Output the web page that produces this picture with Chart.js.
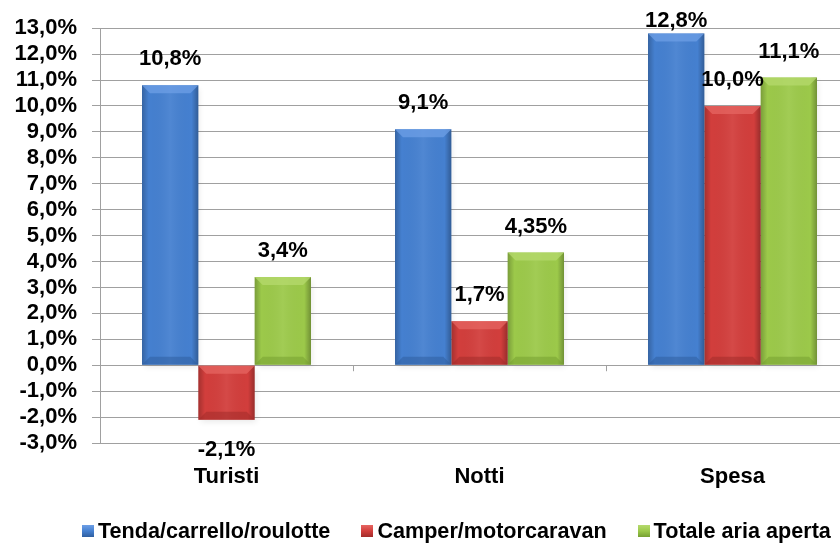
<!DOCTYPE html>
<html>
<head>
<meta charset="utf-8">
<script src="https://cdn.jsdelivr.net/npm/chart.js@4/dist/chart.umd.min.js"></script>
<style>
  html, body { margin: 0; padding: 0; background: #fff; overflow: hidden; }
  #wrap { position: relative; width: 860px; height: 547px; }
  #legend { position: absolute; left: 82px; top: 518px; height: 26px; display: flex; align-items: center;
            font-family: 'Liberation Sans', Arial, sans-serif; font-weight: bold; font-size: 21.6px; color: #000; white-space: nowrap; }
  .item { display: flex; align-items: center; margin-right: 31px; }
  .sw { width: 12px; height: 12px; margin-right: 4px; box-sizing: border-box; }
</style>
</head>
<body>
<div id="wrap">
  <canvas id="c" width="860" height="547"></canvas>
  <div id="legend"></div>
</div>
<script>
const categories = ['Turisti', 'Notti', 'Spesa'];
const seriesNames = ['Tenda/carrello/roulotte', 'Camper/motorcaravan', 'Totale aria aperta'];
const tendaValues = [10.8, 9.1, 12.8];
const camperValues = [-2.1, 1.7, 10.0];
const totaleValues = [3.4, 4.35, 11.1];
const yMin = -3, yMax = 13, yStep = 1;

const baseColors = ['#4580d0', '#d23e3c', '#9cc94a'];
const lightColors = ['#6e9fe6', '#e66662', '#b5da6e'];
const darkColors = ['#2f5fa0', '#a22c2a', '#76a032'];

function fmtValue(v) {
  let s = String(v);
  if (s.indexOf('.') < 0) s += '.0';
  return s.replace('.', ',') + '%';
}

const FONT = "'Liberation Sans', Arial, sans-serif";

const barStyle = {
  id: 'barStyle',
  beforeDatasetsDraw(chart) {
    const ctx = chart.ctx;
    ctx.save();
    chart.data.datasets.forEach((ds, di) => {
      const meta = chart.getDatasetMeta(di);
      meta.data.forEach(el => {
        const p = el.getProps(['x', 'y', 'base', 'width'], true);
        const l = p.x - p.width / 2, t = Math.min(p.y, p.base), h = Math.abs(p.base - p.y);
        ctx.shadowColor = 'rgba(0,0,0,0.35)';
        ctx.shadowBlur = 6;
        ctx.shadowOffsetX = 2;
        ctx.shadowOffsetY = 3;
        ctx.fillStyle = 'rgba(0,0,0,0.25)';
        ctx.fillRect(l + 1, t + 1, p.width - 2, h - 2);
      });
    });
    ctx.restore();
  },
  afterDatasetsDraw(chart) {
    const ctx = chart.ctx;
    ctx.save();
    chart.data.datasets.forEach((ds, di) => {
      const meta = chart.getDatasetMeta(di);
      meta.data.forEach(el => {
        const p = el.getProps(['x', 'y', 'base', 'width'], true);
        const l = p.x - p.width / 2, r = p.x + p.width / 2;
        const t = Math.min(p.y, p.base), b = Math.max(p.y, p.base);
        const h = b - t;
        const g = ctx.createLinearGradient(l, 0, r, 0);
        g.addColorStop(0, 'rgba(0,0,0,0.22)');
        g.addColorStop(0.12, 'rgba(0,0,0,0.0)');
        g.addColorStop(0.5, 'rgba(255,255,255,0.06)');
        g.addColorStop(0.88, 'rgba(0,0,0,0.0)');
        g.addColorStop(1, 'rgba(0,0,0,0.28)');
        ctx.fillStyle = g;
        ctx.fillRect(l, t, r - l, h);
        const bv = Math.min(8, h / 2);
        ctx.fillStyle = lightColors[di];
        ctx.globalAlpha = 0.75;
        ctx.beginPath();
        ctx.moveTo(l, t); ctx.lineTo(r, t); ctx.lineTo(r - bv, t + bv); ctx.lineTo(l + bv, t + bv); ctx.closePath();
        ctx.fill();
        ctx.fillStyle = darkColors[di];
        ctx.globalAlpha = 0.55;
        ctx.beginPath();
        ctx.moveTo(l, b); ctx.lineTo(r, b); ctx.lineTo(r - bv, b - bv); ctx.lineTo(l + bv, b - bv); ctx.closePath();
        ctx.fill();
        ctx.globalAlpha = 1;
      });
    });
    ctx.restore();
  }
};

const valueLabels = {
  id: 'valueLabels',
  afterDraw(chart) {
    const ctx = chart.ctx;
    ctx.save();
    ctx.font = 'bold 22px ' + FONT;
    ctx.fillStyle = '#000';
    ctx.textAlign = 'center';
    ctx.textBaseline = 'middle';
    chart.data.datasets.forEach((ds, di) => {
      const meta = chart.getDatasetMeta(di);
      meta.data.forEach((el, i) => {
        const v = ds.data[i];
        const p = el.getProps(['x', 'y', 'base'], true);
        let yy;
        if (v >= 0) yy = Math.max(p.y - 26, 21);
        else yy = p.y + 30;
        ctx.fillText(fmtValue(v), p.x, yy);
      });
    });
    const xs = chart.scales.x, ys = chart.scales.y;
    const y0 = ys.getPixelForValue(0);
    ctx.strokeStyle = '#a0a0a0';
    ctx.lineWidth = 1;
    for (let i = 0; i <= categories.length; i++) {
      let px;
      if (i === 0) px = chart.chartArea.left;
      else if (i === categories.length) px = chart.chartArea.right;
      else px = (xs.getPixelForValue(i - 1) + xs.getPixelForValue(i)) / 2;
      px = Math.round(px) + 0.5;
      ctx.beginPath(); ctx.moveTo(px, y0); ctx.lineTo(px, y0 + 6); ctx.stroke();
    }
    ctx.restore();
  }
};

const datasets = [tendaValues, camperValues, totaleValues].map((vals, i) => ({
  label: seriesNames[i],
  data: vals,
  backgroundColor: baseColors[i],
  borderWidth: 0,
  barPercentage: 1.0,
  categoryPercentage: 0.668
}));

new Chart(document.getElementById('c'), {
  type: 'bar',
  data: { labels: categories, datasets },
  options: {
    responsive: false,
    animation: false,
    devicePixelRatio: 1,
    layout: { padding: { left: 0, right: 1, top: 27, bottom: 44 } },
    plugins: { legend: { display: false }, tooltip: { enabled: false } },
    scales: {
      x: {
        grid: { display: false, drawTicks: false },
        border: { display: false },
        ticks: { color: '#000', font: { family: FONT, size: 22, weight: 'bold' }, padding: 21 },
        afterFit(s) { s.height = 60; }
      },
      y: {
        min: yMin, max: yMax,
        ticks: {
          stepSize: yStep,
          autoSkip: false,
          color: '#000',
          font: { family: FONT, size: 22, weight: 'bold' },
          padding: 15,
          callback: v => v.toFixed(1).replace('.', ',') + '%'
        },
        grid: { color: '#a0a0a0', lineWidth: 1, tickLength: 8 },
        border: { color: '#a0a0a0', width: 1 },
        afterFit(s) { s.width = 100; }
      }
    }
  },
  plugins: [barStyle, valueLabels]
});

const leg = document.getElementById('legend');
seriesNames.forEach((name, i) => {
  const it = document.createElement('div');
  it.className = 'item';
  const sw = document.createElement('span');
  sw.className = 'sw';
  sw.style.background = 'linear-gradient(180deg,' + lightColors[i] + ',' + baseColors[i] + ' 50%,' + darkColors[i] + ')';
  const tx = document.createElement('span');
  tx.textContent = name;
  it.appendChild(sw); it.appendChild(tx);
  leg.appendChild(it);
});
</script>
</body>
</html>
